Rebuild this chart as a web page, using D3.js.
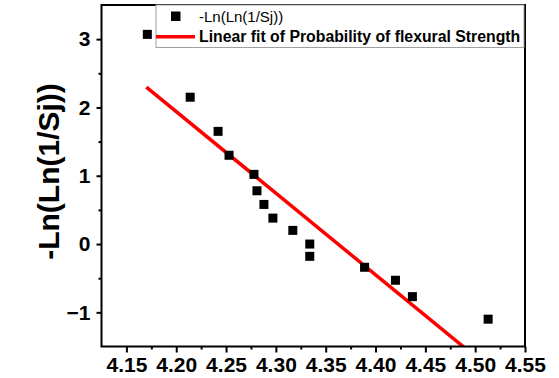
<!DOCTYPE html>
<html><head><meta charset="utf-8">
<script src="https://cdn.jsdelivr.net/npm/d3@7"></script>
<style>body{margin:0;background:#fff}svg{display:block}</style>
</head><body>
<script>
// Data
const xValues = [4.171, 4.214, 4.242, 4.253, 4.278, 4.281, 4.288, 4.297, 4.317, 4.334, 4.334, 4.389, 4.420, 4.437, 4.513];
const yValues = [3.07, 2.15, 1.65, 1.30, 1.02, 0.78, 0.58, 0.38, 0.20, 0.00, -0.18, -0.34, -0.53, -0.77, -1.10];
const fitIntercept = 52.13;
const fitSlope = -11.95;
const fitRange = [4.170, 4.513];
const xTicks = [4.15, 4.20, 4.25, 4.30, 4.35, 4.40, 4.45, 4.50, 4.55];
const yTicks = [-1, 0, 1, 2, 3];
const seriesLabel = "-Ln(Ln(1/Sj))";
const fitLabel = "Linear fit of Probability of flexural Strength";
const yTitle = "-Ln(Ln(1/Sj))";

const W = 559, H = 378;
const svg = d3.select("body").append("svg").attr("width", W).attr("height", H);
const font = "'Liberation Sans', Arial, sans-serif";

const x = d3.scaleLinear().domain([4.125, 4.55]).range([101.5, 525]);
const y = d3.scaleLinear().domain([-1.5, 3.5]).range([346.5, 5]);

svg.append("clipPath").attr("id", "clip").append("rect")
  .attr("x", x(4.125)).attr("y", y(3.5)).attr("width", x(4.55) - x(4.125)).attr("height", y(-1.5) - y(3.5));

// Minor ticks
const xMinor = d3.range(4.175, 4.55, 0.05);
const yMinor = d3.range(-0.5, 3.5, 1);
svg.append("g").attr("transform", `translate(0,${y(-1.5)})`)
  .call(d3.axisBottom(x).tickValues(xMinor).tickSize(3).tickFormat(""))
  .call(g => { g.select(".domain").remove(); g.selectAll("line").attr("stroke-width", 2); });
svg.append("g").attr("transform", `translate(${x(4.125)},0)`)
  .call(d3.axisLeft(y).tickValues(yMinor).tickSize(3).tickFormat(""))
  .call(g => { g.select(".domain").remove(); g.selectAll("line").attr("stroke-width", 2); });

// Major axes
const xAxis = svg.append("g").attr("transform", `translate(0,${y(-1.5)})`)
  .call(d3.axisBottom(x).tickValues(xTicks).tickSize(6).tickPadding(5).tickFormat(d3.format(".2f")));
xAxis.select(".domain").remove();
xAxis.selectAll("line").attr("stroke-width", 2);
xAxis.selectAll("text").attr("font-family", font).attr("font-weight", "bold").attr("font-size", 21).attr("fill", "#000");

const yAxis = svg.append("g").attr("transform", `translate(${x(4.125)},0)`)
  .call(d3.axisLeft(y).tickValues(yTicks).tickSize(5).tickPadding(6).tickFormat(d => d < 0 ? "\u2212" + Math.abs(d) : d));
yAxis.select(".domain").remove();
yAxis.selectAll("line").attr("stroke-width", 2);
yAxis.selectAll("text").attr("font-family", font).attr("font-weight", "bold").attr("font-size", 21).attr("fill", "#000");

// Fit line
svg.append("line").attr("clip-path", "url(#clip)")
  .attr("x1", x(fitRange[0])).attr("y1", y(fitIntercept + fitSlope * fitRange[0]))
  .attr("x2", x(fitRange[1])).attr("y2", y(fitIntercept + fitSlope * fitRange[1]))
  .attr("stroke", "#ff0000").attr("stroke-width", 3.5);

// Points
const ms = 9;
svg.append("g").selectAll("rect").data(xValues.map((v, i) => [v, yValues[i]])).join("rect")
  .attr("x", d => x(d[0]) - ms / 2).attr("y", d => y(d[1]) - ms / 2)
  .attr("width", ms).attr("height", ms).attr("fill", "#000");

// Frame
svg.append("rect").attr("x", x(4.125)).attr("y", y(3.5))
  .attr("width", x(4.55) - x(4.125)).attr("height", y(-1.5) - y(3.5))
  .attr("fill", "none").attr("stroke", "#000").attr("stroke-width", 2);

// Legend
const lg = svg.append("g");
lg.append("rect").attr("x", 156).attr("y", 5).attr("width", 368).attr("height", 42.5)
  .attr("fill", "#fff").attr("stroke", "#a0a0a0").attr("stroke-width", 1);
lg.append("rect").attr("x", 171).attr("y", 11.5).attr("width", 9.5).attr("height", 9.5).attr("fill", "#000");
lg.append("text").attr("x", 199).attr("y", 21.5).attr("font-family", font).attr("font-size", 15)
  .attr("fill", "#000").text(seriesLabel);
lg.append("line").attr("x1", 156).attr("x2", 195).attr("y1", 36.7).attr("y2", 36.7)
  .attr("stroke", "#ff0000").attr("stroke-width", 3.5);
lg.append("text").attr("x", 199).attr("y", 42).attr("font-family", font).attr("font-weight", "bold").attr("font-size", 15.8)
  .attr("fill", "#000").text(fitLabel);

// Y title
svg.append("text").attr("transform", `translate(48,171.5) rotate(-90)`)
  .attr("text-anchor", "middle").attr("dominant-baseline", "central")
  .attr("font-family", font).attr("font-weight", "bold").attr("font-size", 30).attr("fill", "#000")
  .text(yTitle);
</script>
</body></html>
